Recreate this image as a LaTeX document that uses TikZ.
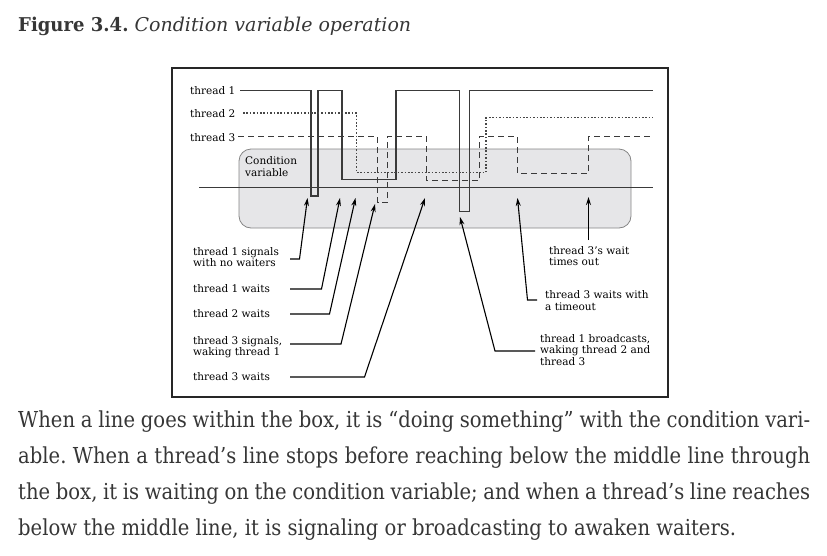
\documentclass[tikz,border=0pt]{standalone}
\usepackage{fontspec}
\setmainfont{DejaVu Serif}
\newfontfamily\capfont[FakeStretch=0.95]{DejaVu Serif}
\newfontfamily\prosefont[FakeStretch=0.89]{DejaVu Serif}
\usetikzlibrary{arrows.meta,calc}

\definecolor{inkgray}{HTML}{3A3A3A}
\definecolor{boxfill}{HTML}{E6E6E8}
\definecolor{boxline}{HTML}{858585}
\definecolor{prose}{HTML}{363636}

\begin{document}
\frenchspacing
\begin{tikzpicture}[x=1pt,y=-1pt,
    t1line/.style={line width=1.1pt, draw=inkgray},
    t2line/.style={t1line, draw=black!72, dash pattern=on 1.6pt off 1.8pt},
    t3line/.style={t1line, dash pattern=on 6pt off 4pt},
    pointer/.style={-{Stealth[length=8pt,width=5pt]}, line width=1.1pt, black},
    lbl/.style={font=\fontsize{10.5}{11.5}\selectfont, inner sep=0pt,
      anchor=base west, align=left, text=black}]
    \useasboundingbox (0,0) rectangle (827,555);
    \def\frameAndBox{
      % Draw outer frame and condition variable box
      \draw [line width=1.2pt, draw=black!85] (172,68) rectangle (668,397);
      \draw [fill=boxfill, draw=boxline, line width=0.8pt, rounded corners=12pt]
        (239,149) rectangle (631,228);
      \node [lbl] (cv) at (245,176) {Condition\\variable};
      % Draw middle line
      \draw [line width=1.2pt, draw=inkgray] (199,187.5) -- (653,187.5);
    }
    \def\threads{
      \node [lbl] (th1) at (190,94) {thread 1};
      \node [lbl] (th2) at (190,117) {thread 2};
      \node [lbl] (th3) at (190,141) {thread 3};
      \draw [t1line] (240,90.5) -- (311,90.5) -- (311,196) -- (318,196)
        -- (318,90.5) -- (342,90.5) -- (342,179.5) -- (396,179.5)
        -- (396,90.5) -- (459.5,90.5) -- (459.5,211.5) -- (469.5,211.5)
        -- (469.5,90.5) -- (653,90.5);
      \draw [t2line] (243,113) -- (356.5,113) -- (356.5,172.5) -- (486,172.5)
        -- (486,117.5) -- (653,117.5);
      \draw [t3line] (238,136.5) -- (377.5,136.5) -- (377.5,202.5)
        -- (387.5,202.5) -- (387.5,136.5) -- (426.5,136.5) -- (426.5,180.5)
        -- (479.5,180.5) -- (479.5,136.5) -- (517.5,136.5) -- (517.5,173.5)
        -- (588.5,173.5) -- (588.5,136.5) -- (653,136.5);
    }
    \def\callouts{
      \coordinate (a1) at (290,259);   \coordinate (k1) at (299.5,259);
      \coordinate (p1) at (307.5,198);
      \coordinate (a2) at (290,289);   \coordinate (k2) at (321.5,289);
      \coordinate (p2) at (340,198);
      \coordinate (a3) at (290,314);   \coordinate (k3) at (329.5,314);
      \coordinate (p3) at (355.5,198);
      \coordinate (a4) at (290,344);   \coordinate (k4) at (341,344);
      \coordinate (p4) at (375,204);
      \coordinate (a5) at (290,377);   \coordinate (k5) at (364.5,377);
      \coordinate (p5) at (425,198);
      \coordinate (a6) at (535,351);   \coordinate (k6) at (495,351);
      \coordinate (p6) at (460,217);
      \coordinate (a7) at (537,300);   \coordinate (k7) at (527.5,300);
      \coordinate (p7) at (517.5,198);
      \coordinate (a8) at (588.5,240); \coordinate (k8) at (588.5,240);
      \coordinate (p8) at (588.5,197);
      % Draw pointers
      \foreach \i in {1,...,8} {
        \draw [pointer] (a\i) -- (k\i) -- (p\i);
      }
      % base of a two-line label sits on its last line
      \node [lbl] (s1) at (193,266.5) {thread 1 signals\\with no waiters};
      \node [lbl] (s2) at (193,292) {thread 1 waits};
      \node [lbl] (s3) at (193,317) {thread 2 waits};
      \node [lbl] (s4) at (193,355.5) {thread 3 signals,\\waking thread 1};
      \node [lbl] (s5) at (193,380) {thread 3 waits};
      \node [lbl] (s6) at (540,365) {thread 1 broadcasts,\\waking thread 2 and\\thread 3};
      \node [lbl] (s7) at (545,310) {thread 3 waits with\\a timeout};
      \node [lbl] (s8) at (549,265.5) {thread 3's wait\\times out};
    }
    \def\caption{
      \node [anchor=base west, inner sep=0pt, text=prose,
        font=\fontsize{19}{23}\selectfont] (cap) at (18,31)
        {{\capfont\bfseries Figure 3.4.} \itshape Condition variable operation};
    }
    \def\prose{
      \node [anchor=base west, inner sep=0pt, text=prose,
        font=\prosefont\fontsize{22}{36}\selectfont] (l1) at (18,427)
        {\hbox to 792pt{When a line goes within the box, it is “doing something” with the condition vari-}};
      \node [anchor=base west, inner sep=0pt, text=prose,
        font=\prosefont\fontsize{22}{36}\selectfont] (l2) at (18,463)
        {\hbox to 792pt{able. When a thread’s line stops before reaching below the middle line through}};
      \node [anchor=base west, inner sep=0pt, text=prose,
        font=\prosefont\fontsize{22}{36}\selectfont] (l3) at (18,499)
        {\hbox to 792pt{the box, it is waiting on the condition variable; and when a thread’s line reaches}};
      \node [anchor=base west, inner sep=0pt, text=prose,
        font=\prosefont\fontsize{22}{36}\selectfont] (l4) at (18,535)
        {below the middle line, it is signaling or broadcasting to awaken waiters.};
    }
    \frameAndBox
    \threads
    \callouts
    \caption
    \prose
\end{tikzpicture}
\end{document}
